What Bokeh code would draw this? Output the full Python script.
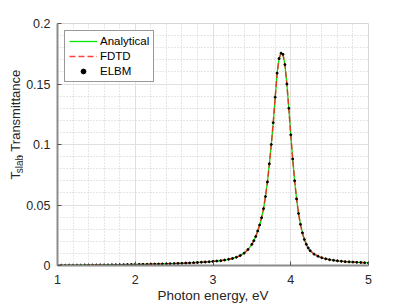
import numpy as np
from bokeh.plotting import figure
from bokeh.layouts import row
from bokeh.models import Range1d, FixedTicker
from bokeh.core.properties import value
from bokeh.embed import file_html
from bokeh.resources import INLINE

# ---- data ----
energy = [1.00, 1.05, 1.10, 1.15, 1.20, 1.25, 1.30, 1.35, 1.40, 1.45,
          1.50, 1.55, 1.60, 1.65, 1.70, 1.75, 1.80, 1.85, 1.90, 1.95,
          2.00, 2.05, 2.10, 2.15, 2.20, 2.25, 2.30, 2.35, 2.40, 2.45,
          2.50, 2.55, 2.60, 2.65, 2.70, 2.75, 2.80, 2.85, 2.90, 2.95,
          3.00, 3.05, 3.10, 3.15, 3.20, 3.25, 3.30, 3.35, 3.40, 3.45,
          3.50, 3.525, 3.55, 3.575, 3.60, 3.625, 3.65, 3.675, 3.70, 3.725,
          3.75, 3.775, 3.80, 3.825, 3.85, 3.875, 3.90, 3.925, 3.95, 3.975,
          4.00, 4.025, 4.05, 4.075, 4.10, 4.125, 4.15, 4.175, 4.20, 4.225,
          4.25, 4.30, 4.35, 4.40, 4.45, 4.50, 4.55, 4.60, 4.65, 4.70,
          4.75, 4.80, 4.85, 4.90, 4.95, 5.00]

analytical_T = [0.0002, 0.0002, 0.0002, 0.0003, 0.0003, 0.0003, 0.0003, 0.0004, 0.0004, 0.0004,
                0.0004, 0.0005, 0.0005, 0.0005, 0.0006, 0.0006, 0.0007, 0.0007, 0.0008, 0.0008,
                0.0009, 0.0009, 0.0010, 0.0010, 0.0011, 0.0012, 0.0012, 0.0013, 0.0014, 0.0015,
                0.0016, 0.0017, 0.0018, 0.0020, 0.0021, 0.0023, 0.0025, 0.0027, 0.0029, 0.0031,
                0.0034, 0.0037, 0.0040, 0.0045, 0.0051, 0.0058, 0.0068, 0.0082, 0.0102, 0.0132,
                0.0175, 0.0205, 0.0240, 0.0285, 0.0335, 0.0395, 0.0470, 0.0570, 0.0690, 0.0840,
                0.1000, 0.1180, 0.1390, 0.1590, 0.1710, 0.1755, 0.1745, 0.1660, 0.1500, 0.1300,
                0.1080, 0.0880, 0.0700, 0.0550, 0.0430, 0.0340, 0.0270, 0.0215, 0.0175, 0.0145,
                0.0122, 0.0094, 0.0077, 0.0064, 0.0055, 0.0048, 0.0043, 0.0039, 0.0035, 0.0032,
                0.0030, 0.0028, 0.0026, 0.0025, 0.0023, 0.0022]

# FDTD and ELBM coincide with the analytical curve in the picture
fdtd_T = list(analytical_T)
elbm_T = list(analytical_T)

x_ticks = [1, 2, 3, 4, 5]
y_ticks = [0, 0.05, 0.1, 0.15, 0.2]
y_tick_labels = ["0", "0.05", "0.1", "0.15", "0.2"]

FONT = "Liberation Sans"
TXT = "#262626"

H = 305
LW = 23                  # width of the strip holding the y-axis title
W = 407 - LW
BL, BR, BT, BB = 57 - LW, 39, 23, 40

# ---------- y-axis title strip ----------
fa = figure(width=LW, height=H, x_range=Range1d(0, LW), y_range=Range1d(0, H),
            output_backend="svg", toolbar_location=None,
            min_border=0, min_border_left=0, min_border_right=0,
            min_border_top=0, min_border_bottom=0)
fa.axis.visible = False
fa.grid.visible = False
fa.outline_line_color = None
fa.background_fill_color = "white"
fa.border_fill_color = "white"
ang = np.pi / 2
fa.text(x=[14.5], y=[108.3], text=["T"], angle=ang, text_align="left",
        text_baseline="alphabetic", text_font=value(FONT), text_font_size="13px",
        text_color=TXT)
fa.text(x=[18.5], y=[116.2], text=["slab"], angle=ang, text_align="left",
        text_baseline="alphabetic", text_font=value(FONT), text_font_size="10px",
        text_color=TXT)
fa.text(x=[14.5], y=[134.7], text=[", Transmittance"], angle=ang, text_align="left",
        text_baseline="alphabetic", text_font=value(FONT), text_font_size="13px",
        text_color=TXT)

# ---------- main plot ----------
p = figure(width=W, height=H, x_range=Range1d(1, 5), y_range=Range1d(0, 0.2),
           output_backend="svg", toolbar_location=None,
           min_border_left=BL, min_border_right=BR, min_border_top=BT, min_border_bottom=BB)
p.background_fill_color = "white"
p.border_fill_color = "white"
p.outline_line_color = "#d6d6d6"
p.outline_line_width = 1

p.xaxis.ticker = FixedTicker(ticks=x_ticks, minor_ticks=[round(v, 2) for v in np.arange(1, 5.001, 0.2)])
p.yaxis.ticker = FixedTicker(ticks=y_ticks, minor_ticks=[round(v, 3) for v in np.arange(0, 0.2001, 0.01)])
p.yaxis.major_label_overrides = {t: l for t, l in zip(y_ticks, y_tick_labels)}

for ax in (p.xaxis, p.yaxis):
    ax.axis_line_color = "#8c8c8c"
    ax.axis_line_width = 2
    ax.major_tick_in = 4
    ax.major_tick_out = 0
    ax.major_tick_line_color = "#555555"
    ax.minor_tick_line_color = None
    ax.major_label_text_font = FONT
    ax.major_label_text_font_size = "12.5px"
    ax.major_label_text_color = TXT
p.xaxis.major_label_standoff = 5
p.yaxis.major_label_standoff = 3
p.yaxis.axis_label_standoff = 0

p.xaxis.axis_label = "Photon energy, eV"
p.xaxis.axis_label_text_font = FONT
p.xaxis.axis_label_text_font_size = "13.5px"
p.xaxis.axis_label_text_font_style = "normal"
p.xaxis.axis_label_text_color = TXT
p.xaxis.axis_label_standoff = 1

for g in (p.xgrid, p.ygrid):
    g.grid_line_color = "#e0e0e0"
    g.grid_line_width = 1
    g.minor_grid_line_color = "#cdcdcd"
    g.minor_grid_line_dash = "1 2"
    g.minor_grid_line_width = 1

p.line(energy, analytical_T, line_color="#00e600", line_width=1.3, legend_label="Analytical")
p.line(energy, fdtd_T, line_color="#ff2020", line_width=1.5, line_dash="6 3", line_alpha=0.85,
       legend_label="FDTD")
p.scatter(energy, elbm_T, marker="circle", size=2.0, fill_color="black", line_color="black",
          legend_label="ELBM")

lg = p.legend[0]
lg.location = "top_left"
lg.margin = 7
lg.padding = 4
lg.spacing = 3
lg.glyph_width = 28
lg.glyph_height = 12
lg.label_height = 12
lg.label_standoff = 3
lg.label_text_font = FONT
lg.label_text_font_size = "11.5px"
lg.label_text_color = "#000000"
lg.border_line_color = "#333333"
lg.border_line_width = 1
lg.background_fill_color = "white"
lg.background_fill_alpha = 1

layout = row(fa, p, spacing=0)
open("out.html", "w").write(file_html(layout, INLINE))
